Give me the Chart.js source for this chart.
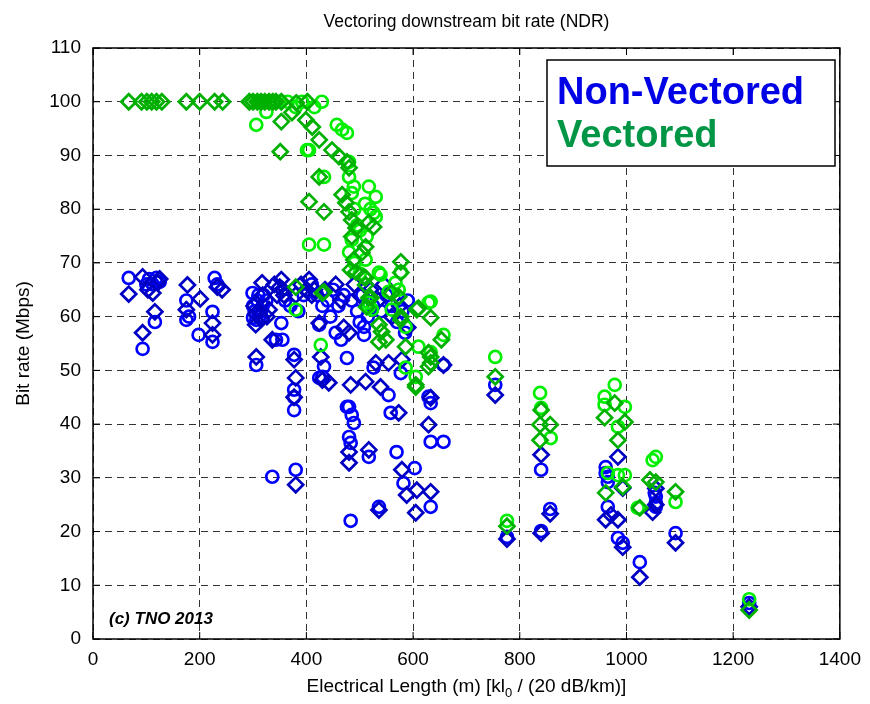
<!DOCTYPE html>
<html>
<head>
<meta charset="utf-8">
<title>Vectoring downstream bit rate (NDR)</title>
<script src="https://cdn.jsdelivr.net/npm/chart.js@4.4.1/dist/chart.umd.min.js"></script>
<style>
  html, body { margin: 0; padding: 0; background: #fff; }
  #wrap { width: 870px; height: 704px; }
</style>
</head>
<body>
<div id="wrap"><canvas id="bitrateChart" width="870" height="704"></canvas></div>
<script>
const FONT = "'Liberation Sans', Arial, sans-serif";

const chartTitle = "Vectoring downstream bit rate (NDR)";
const yTitle = "Bit rate (Mbps)";
const legendLabels = ["Non-Vectored", "Vectored"];
const copyright = "(c) TNO 2013";

const xTickValues = [0, 200, 400, 600, 800, 1000, 1200, 1400];
const yTickValues = [0, 10, 20, 30, 40, 50, 60, 70, 80, 90, 100, 110];

// [electrical length (m), bit rate (Mbps)]
const nonVecCircles = [
  [67,67.2],[93,54],[119,67.2],[116,59],[105,67],[125,66.5],[112,66],[100,66],
  [175,63],[175,59.4],[198,56.6],[228,67.2],[233,66],[224,60.9],[224,55.3],[180,60],
  [299,64.4],[306,59.4],[306,51],[303,61],[312,60],[318,62],[300,59.8],[325,63],[310,64],
  [300,62],[308,63],[315,61],[320,64],
  [355,55.7],[353,58.8],[343,55.7],[377,52.9],[377,46.4],[377,45],[377,42.6],[336,30.2],[380,31.5],
  [360,63],[370,62],[385,61],[395,64],
  [424,58.5],[433,50.7],[424,48.6],[455,57],[465,55.7],[476,52.3],[476,43.2],[430,48.8],
  [508,56.6],[508,58.1],[526,50.5],[554,45.4],[577,49.5],[633,43.9],
  [480,43.2],[485,41.7],[489,40.2],[480,37.6],[483,36.5],[517,33.9],[558,42.1],[569,34.8],
  [603,31.8],[582,29],[633,24.6],[536,24.6],[483,22],[629,45.1],[633,36.7],[657,36.7],[657,51],[754,47.3],
  [410,66],[420,64],[440,63],[450,65],[460,62],[470,64],[485,63],[495,61],[505,64],[515,60],
  [525,62],[540,61],[550,64],[560,62],[570,59],[580,61],[590,63],[585,57],[430,62],[445,60],[500,59],
  [776,19],[840,31.5],[840,20.1],[857,24.2],[961,32],[965,30.2],[965,29.2],[965,24.6],[961,30.9],
  [984,18.8],[993,17.9],[1025,14.3],[1053,27.2],[1055,25.3],[1055,26.5],[1055,24.6],[1092,19.7],[1230,6.7]
];
const nonVecDiamonds = [
  [67,64.2],[93,57],[93,67.4],[116,60.9],[103,65],[112,64.4],[121,66.3],[125,67],
  [177,65.9],[175,61.3],[201,63.3],[233,65.5],[242,65],[224,58.8],[224,56.6],
  [306,52.5],[317,66.3],[330,61.3],[336,55.7],[353,66.9],[350,65.5],[340,66],[377,52],[380,48.6],
  [377,45],[380,28.7],[305,60.5],[315,59.5],[305,58.5],
  [302,62],[310,61],[318,64],[326,60],[355,65],[358,64],[345,64],[400,65],[410,64],
  [405,66.9],[424,58.8],[427,52.5],[430,48.2],[442,47.7],[483,47.3],[511,47.9],[539,46.9],
  [530,51.4],[554,51.4],[579,52],[573,42.1],[633,44.9],[657,51],
  [480,34.8],[480,32.8],[517,35.2],[579,31.5],[607,27.7],[633,27.4],[588,26.8],[536,24],[605,23.5],
  [629,39.9],[754,45.4],
  [380,64],[390,66],[415,65],[435,65],[455,66],[465,63],[490,66],[500,64],[520,65],[535,63],
  [545,66],[560,60],[575,62],[590,58],[470,58],[480,57],
  [776,18.6],[840,34.3],[840,19.7],[857,23.3],[984,33.9],[993,28.1],[971,23.1],[961,22.2],[984,22.2],
  [993,17.1],[1025,11.5],[1049,23.6],[1055,25],[1055,28],[1092,17.9],[1230,6]
];
const vecCircles = [
  [306,95.7],[325,98.1],[392,100],[429,100],[401,91],[433,86],[405,73.4],[433,73.4],[380,61.3],
  [457,95.7],[467,94.8],[476,94.2],[405,91],[480,88.8],[489,84.2],[517,84.2],[530,82.3],
  [485,74.3],[513,74.9],[526,79.3],[530,78.6],[511,70.6],[536,68.2],[577,68.3],[567,66.3],
  [517,61.8],[523,61.3],[560,61.3],[633,62.8],[427,54.7],[629,62.6],[657,56.6],[610,54.4],
  [586,50.5],[605,48.8],[517,62.6],[573,65],[554,64.6],[586,58.1],[539,67.8],[633,53.4],[754,52.5],
  [310,100],[330,100],[350,100],[365,100],[380,99],[415,99],
  [480,86],[485,83],[490,80],[495,77],[480,72],[490,70],[500,76],[510,81],[520,80],[500,68],
  [776,22],[838,45.8],[840,43],[858,37.4],[959,45.1],[959,43.6],[978,47.3],[997,43.2],[984,39.5],
  [965,30.9],[984,30.5],[997,30.5],[1049,33.3],[1055,33.9],[1021,24.4],[1092,25.5],[1230,7.4]
];
const vecDiamonds = [
  [67,100],[91,100],[101,100],[110,100],[119,100],[129,100],[175,100],[200,100],[228,100],[243,100],
  [293,100],[300,100],[308,100],[315,100],[322,100],[330,100],[337,100],[343,100],[353,100],
  [381,99.8],[402,100],
  [353,96.3],[351,90.7],[424,86],[405,81.4],[433,79.5],[380,65.5],[433,64.6],[373,98],[399,96.6],
  [411,95.3],[424,92.9],[448,91],[461,89.8],[476,88.8],[480,87.7],[467,82.7],[474,81.2],[480,79.5],
  [485,78],[493,76.5],[485,74.9],[517,77.5],[526,76.7],[511,73],[504,71.9],[489,70.6],[493,68.3],
  [483,68.7],[577,70.2],[577,68.2],[508,67.4],[511,65.9],[560,64.4],[573,63.7],[521,63.5],[513,61.8],
  [607,61.3],[633,59.8],[536,58.5],[577,60],[430,64.4],[511,67.2],[517,63.5],[541,57.2],[536,55.3],
  [549,55.7],[577,59.4],[586,54.4],[629,53.3],[629,50.7],[605,47.3],[653,55.7],[610,61.6],[633,52.5],
  [633,51.4],[605,46.9],
  [776,21],[840,42.6],[838,39.9],[857,39.9],[838,37],[754,48.8],[959,41.2],[978,43.9],[997,40.4],
  [984,37],[961,27.2],[993,28.3],[1044,29.6],[1055,29.2],[1025,24.4],[1092,27.4],[1230,5.4]
];

function toPoints(list) {
  return list.map(p => ({ x: p[0], y: p[1] }));
}

function series(label, list, style, color, radius, order) {
  return {
    label: label,
    data: toPoints(list),
    showLine: false,
    pointStyle: style,
    pointRadius: radius,
    pointBorderWidth: 2.7,
    pointBorderColor: color,
    pointBackgroundColor: "rgba(0,0,0,0)",
    borderColor: color,
    order: order
  };
}

// box, inward ticks, titles, legend box and copyright text
const decorations = {
  id: "decorations",
  afterDraw(chart) {
    const ctx = chart.ctx;
    const a = chart.chartArea;
    const xs = chart.scales.x, ys = chart.scales.y;
    ctx.save();

    ctx.strokeStyle = "#000";
    ctx.lineWidth = 1.5;
    ctx.setLineDash([]);
    ctx.strokeRect(a.left, a.top, a.right - a.left, a.bottom - a.top);

    ctx.lineWidth = 1;
    ctx.beginPath();
    xTickValues.forEach(v => {
      const px = xs.getPixelForValue(v);
      ctx.moveTo(px, a.bottom); ctx.lineTo(px, a.bottom - 7);
      ctx.moveTo(px, a.top); ctx.lineTo(px, a.top + 7);
    });
    yTickValues.forEach(v => {
      const py = ys.getPixelForValue(v);
      ctx.moveTo(a.left, py); ctx.lineTo(a.left + 7, py);
      ctx.moveTo(a.right, py); ctx.lineTo(a.right - 7, py);
    });
    ctx.stroke();

    ctx.fillStyle = "#000";
    ctx.textAlign = "center";
    ctx.textBaseline = "alphabetic";
    ctx.font = "17.5px " + FONT;
    ctx.fillText(chartTitle, (a.left + a.right) / 2, 27);

    // x label with subscript
    const mainFont = "19px " + FONT, subFont = "13px " + FONT;
    const parts = [["Electrical Length (m) [kl", mainFont, 0], ["0", subFont, 5], [" / (20 dB/km)]", mainFont, 0]];
    let total = 0;
    parts.forEach(p => { ctx.font = p[1]; total += ctx.measureText(p[0]).width; });
    let x = (a.left + a.right) / 2 - total / 2;
    ctx.textAlign = "left";
    parts.forEach(p => {
      ctx.font = p[1];
      ctx.fillText(p[0], x, 692 + p[2]);
      x += ctx.measureText(p[0]).width;
    });

    ctx.save();
    ctx.translate(24, (a.top + a.bottom) / 2);
    ctx.rotate(-Math.PI / 2);
    ctx.textAlign = "center";
    ctx.textBaseline = "middle";
    ctx.font = "19px " + FONT;
    ctx.fillText(yTitle, 0, 0);
    ctx.restore();

    ctx.font = "italic bold 17px " + FONT;
    ctx.textAlign = "left";
    ctx.fillText(copyright, 109, 624);

    // legend box
    ctx.fillStyle = "#fff";
    ctx.fillRect(547, 60, 288, 106);
    ctx.lineWidth = 1.5;
    ctx.strokeStyle = "#000";
    ctx.strokeRect(547, 60, 288, 106);
    ctx.font = "bold 38px " + FONT;
    ctx.fillStyle = "#0000e6";
    ctx.fillText(legendLabels[0], 557, 104);
    ctx.fillStyle = "#009646";
    ctx.fillText(legendLabels[1], 557, 147);

    ctx.restore();
  }
};

new Chart(document.getElementById("bitrateChart"), {
  type: "scatter",
  data: {
    datasets: [
      series("Non-Vectored", nonVecCircles, "circle", "#0000ff", 6, 4),
      series("Non-Vectored", nonVecDiamonds, "rectRot", "#0000c4", 7.5, 3),
      series("Vectored", vecCircles, "circle", "#00ee00", 6, 2),
      series("Vectored", vecDiamonds, "rectRot", "#00b000", 7.5, 1)
    ]
  },
  options: {
    responsive: false,
    animation: false,
    devicePixelRatio: 1,
    layout: { padding: { top: 48, right: 27, left: 0, bottom: 0 } },
    plugins: {
      legend: { display: false },
      title: { display: false },
      tooltip: { enabled: false }
    },
    scales: {
      x: {
        type: "linear",
        min: 0,
        max: 1400,
        afterBuildTicks: s => { s.ticks = xTickValues.map(v => ({ value: v })); },
        afterFit: s => { s.height = 65; },
        ticks: { color: "#000", font: { family: FONT, size: 19 }, padding: 9, maxRotation: 0, callback: v => String(v) },
        grid: { color: "#333", drawTicks: false, lineWidth: 1 },
        border: { display: false, dash: [7, 5] }
      },
      y: {
        type: "linear",
        min: 0,
        max: 110,
        afterBuildTicks: s => { s.ticks = yTickValues.map(v => ({ value: v })); },
        afterFit: s => { s.width = 93; },
        ticks: { color: "#000", font: { family: FONT, size: 19 }, padding: 12, callback: v => String(v) },
        grid: { color: "#333", drawTicks: false, lineWidth: 1 },
        border: { display: false, dash: [7, 5] }
      }
    }
  },
  plugins: [decorations]
});
</script>
</body>
</html>
